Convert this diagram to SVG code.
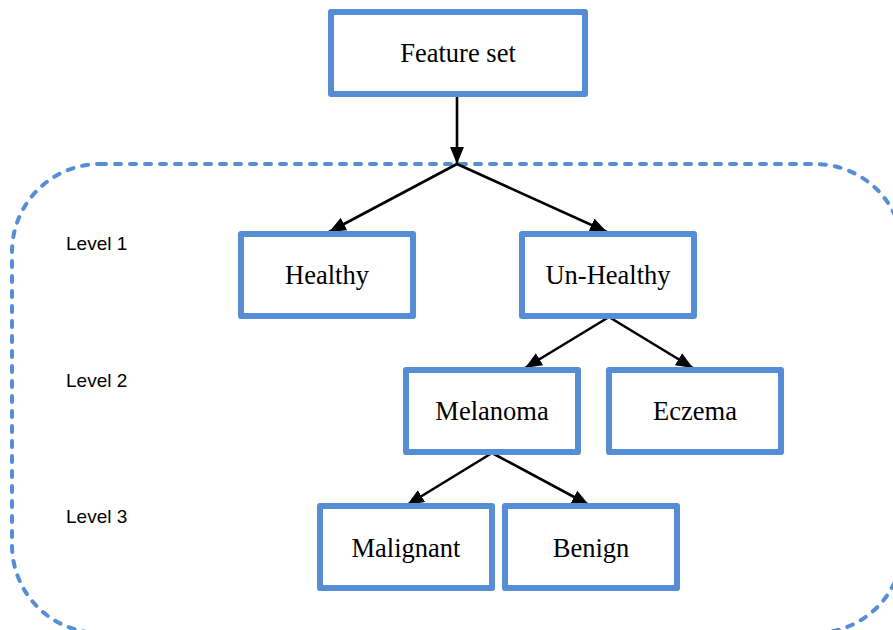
<svg xmlns="http://www.w3.org/2000/svg" width="893" height="630" viewBox="0 0 893 630">
  <style>
    .box { fill: #ffffff; stroke: #558ED5; stroke-width: 6; stroke-linejoin: round; }
    .label { font-family: "Liberation Serif", "Times New Roman", serif; font-size: 26.5px; fill: #000000; text-anchor: middle; }
    .level { font-family: "Liberation Sans", Arial, sans-serif; font-size: 19px; fill: #000000; }
    .edge { stroke: #000000; stroke-width: 2.6; fill: none; marker-end: url(#arrow); }
    .group-outline { fill: none; stroke: #558ED5; stroke-width: 4; stroke-dasharray: 6 9; stroke-linecap: round; }
  </style>
  <defs>
    <marker id="arrow" viewBox="0 0 17 14" refX="17" refY="7" markerWidth="17" markerHeight="14" markerUnits="userSpaceOnUse" orient="auto">
      <path d="M0,0 L17,7 L0,14 z" fill="#000000"/>
    </marker>
  </defs>
  <rect width="893" height="630" fill="#ffffff"/>

  <!-- dashed grouping of the classification levels -->
  <rect class="group-outline" x="12" y="164" width="891" height="469" rx="88" ry="88"/>

  <!-- level captions -->
  <g id="level-labels">
    <text class="level" x="66" y="250">Level 1</text>
    <text class="level" x="66" y="387">Level 2</text>
    <text class="level" x="66" y="523">Level 3</text>
  </g>

  <!-- connectors -->
  <g id="connectors">
    <line class="edge" x1="457" y1="97" x2="457" y2="164"/>
    <polyline class="edge" points="457,164 329,232"/>
    <polyline class="edge" points="457,164 607,232"/>
    <polyline class="edge" points="609,317 525,368"/>
    <polyline class="edge" points="609,317 693,368"/>
    <polyline class="edge" points="492,453 407,505"/>
    <polyline class="edge" points="492,453 589,505"/>
  </g>

  <!-- nodes -->
  <g id="feature-set">
    <rect class="box" x="331" y="12" width="254" height="82"/>
    <text class="label" x="458" y="62">Feature set</text>
  </g>
  <g id="healthy">
    <rect class="box" x="241" y="234" width="172" height="82"/>
    <text class="label" x="327" y="284">Healthy</text>
  </g>
  <g id="un-healthy">
    <rect class="box" x="522" y="234" width="172" height="82"/>
    <text class="label" x="608" y="284">Un-Healthy</text>
  </g>
  <g id="melanoma">
    <rect class="box" x="406" y="370" width="172" height="82"/>
    <text class="label" x="492" y="420">Melanoma</text>
  </g>
  <g id="eczema">
    <rect class="box" x="609" y="370" width="172" height="82"/>
    <text class="label" x="695" y="420">Eczema</text>
  </g>
  <g id="malignant">
    <rect class="box" x="320" y="506" width="172" height="82"/>
    <text class="label" x="406" y="557">Malignant</text>
  </g>
  <g id="benign">
    <rect class="box" x="505" y="506" width="172" height="82"/>
    <text class="label" x="591" y="557">Benign</text>
  </g>
</svg>
